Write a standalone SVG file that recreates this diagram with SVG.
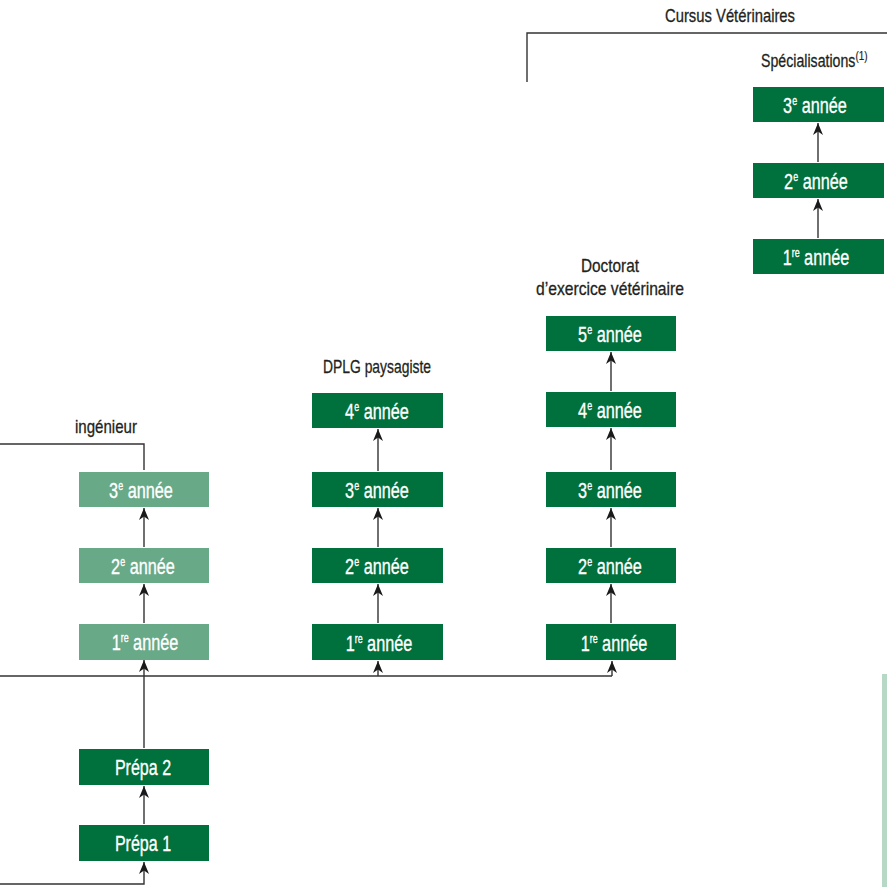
<svg xmlns="http://www.w3.org/2000/svg" width="887" height="887" viewBox="0 0 887 887">
<defs>
<style>
.bx{fill:#00703c}
.lt{fill:#68a987}
.bt{fill:#ffffff;stroke:#ffffff;stroke-width:0.35;font-family:"Liberation Sans",Arial,sans-serif;font-size:22px;text-anchor:middle}
.sup{font-size:12px}
.lb{fill:#231f20;stroke:#231f20;stroke-width:0.3;font-family:"Liberation Sans",Arial,sans-serif;font-size:18.5px;text-anchor:middle}
.ln{fill:none;stroke:#333333;stroke-width:1.4}
.ar{fill:none;stroke:#333333;stroke-width:1.4;marker-end:url(#ah)}
</style>
<marker id="ah" viewBox="0 0 12 10" refX="12" refY="5" markerUnits="userSpaceOnUse" markerWidth="12" markerHeight="10" orient="auto">
<path d="M0,0 L12,5 L0,10 L3.5,5 z" fill="#1a1a1a"/>
</marker>
</defs>
<rect x="882" y="674" width="5" height="213" fill="#b8d8c6"/>
<g id="labels">
<text class="lb" x="730" y="22" textLength="130" lengthAdjust="spacingAndGlyphs">Cursus Vétérinaires</text>
<text class="lb" transform="translate(761,67) scale(0.765,1)" style="text-anchor:start">Spécialisations<tspan dy="-7" style="font-size:13px;stroke-width:0.2">(1)</tspan></text>
<text class="lb" x="610" y="272" textLength="58" lengthAdjust="spacingAndGlyphs">Doctorat</text>
<text class="lb" x="610" y="295" textLength="148" lengthAdjust="spacingAndGlyphs">d’exercice vétérinaire</text>
<text class="lb" x="377" y="373" textLength="108" lengthAdjust="spacingAndGlyphs">DPLG paysagiste</text>
<text class="lb" x="106" y="433" textLength="62" lengthAdjust="spacingAndGlyphs">ingénieur</text>
</g>
<g id="connectors">
<path class="ln" d="M527,82 V33 H887"/>
<path class="ln" d="M0,444 H144 V470"/>
<path class="ar" d="M0,884 H144 V862"/>
<path class="ar" d="M144,824 V786"/>
<path class="ar" d="M144,748 V660"/>
<path class="ln" d="M0,676 H612"/>
<path class="ar" d="M612,676 V661"/>
<path class="ar" d="M378,676 V661"/>
<path class="ar" d="M144,623 V584"/>
<path class="ar" d="M144,547 V508"/>
<path class="ar" d="M378,623 V584"/>
<path class="ar" d="M378,547 V508"/>
<path class="ar" d="M378,471 V429"/>
<path class="ar" d="M611,623 V584"/>
<path class="ar" d="M611,547 V508"/>
<path class="ar" d="M611,470 V428"/>
<path class="ar" d="M611,391 V352"/>
<path class="ar" d="M818,238 V199"/>
<path class="ar" d="M818,162 V123"/>
</g>
<g id="spec3"><rect class="bx" x="753" y="87" width="131" height="35"/><text class="bt" transform="translate(815,113) scale(0.74,1)">3<tspan class="sup" dy="-8">e</tspan><tspan dy="8"> année</tspan></text></g>
<g id="spec2"><rect class="bx" x="753" y="163" width="131" height="35"/><text class="bt" transform="translate(816,189) scale(0.74,1)">2<tspan class="sup" dy="-8">e</tspan><tspan dy="8"> année</tspan></text></g>
<g id="spec1"><rect class="bx" x="753" y="239" width="131" height="35"/><text class="bt" transform="translate(816,265) scale(0.74,1)">1<tspan class="sup" dy="-8">re</tspan><tspan dy="8"> année</tspan></text></g>
<g id="doc5"><rect class="bx" x="546" y="316" width="130" height="35"/><text class="bt" transform="translate(610,342) scale(0.74,1)">5<tspan class="sup" dy="-8">e</tspan><tspan dy="8"> année</tspan></text></g>
<g id="doc4"><rect class="bx" x="546" y="392" width="130" height="35"/><text class="bt" transform="translate(610,418) scale(0.74,1)">4<tspan class="sup" dy="-8">e</tspan><tspan dy="8"> année</tspan></text></g>
<g id="doc3"><rect class="bx" x="546" y="472" width="130" height="35"/><text class="bt" transform="translate(610,498) scale(0.74,1)">3<tspan class="sup" dy="-8">e</tspan><tspan dy="8"> année</tspan></text></g>
<g id="doc2"><rect class="bx" x="546" y="548" width="130" height="35"/><text class="bt" transform="translate(610,574) scale(0.74,1)">2<tspan class="sup" dy="-8">e</tspan><tspan dy="8"> année</tspan></text></g>
<g id="doc1"><rect class="bx" x="546" y="624" width="130" height="36"/><text class="bt" transform="translate(614,651) scale(0.74,1)">1<tspan class="sup" dy="-8">re</tspan><tspan dy="8"> année</tspan></text></g>
<g id="dplg4"><rect class="bx" x="312" y="393" width="131" height="35"/><text class="bt" transform="translate(377,419) scale(0.74,1)">4<tspan class="sup" dy="-8">e</tspan><tspan dy="8"> année</tspan></text></g>
<g id="dplg3"><rect class="bx" x="312" y="472" width="131" height="35"/><text class="bt" transform="translate(377,498) scale(0.74,1)">3<tspan class="sup" dy="-8">e</tspan><tspan dy="8"> année</tspan></text></g>
<g id="dplg2"><rect class="bx" x="312" y="548" width="131" height="35"/><text class="bt" transform="translate(377,574) scale(0.74,1)">2<tspan class="sup" dy="-8">e</tspan><tspan dy="8"> année</tspan></text></g>
<g id="dplg1"><rect class="bx" x="312" y="624" width="131" height="36"/><text class="bt" transform="translate(379,651) scale(0.74,1)">1<tspan class="sup" dy="-8">re</tspan><tspan dy="8"> année</tspan></text></g>
<g id="ing3"><rect class="lt" x="79" y="472" width="130" height="35"/><text class="bt" transform="translate(141,498) scale(0.74,1)">3<tspan class="sup" dy="-8">e</tspan><tspan dy="8"> année</tspan></text></g>
<g id="ing2"><rect class="lt" x="79" y="548" width="130" height="35"/><text class="bt" transform="translate(143,574) scale(0.74,1)">2<tspan class="sup" dy="-8">e</tspan><tspan dy="8"> année</tspan></text></g>
<g id="ing1"><rect class="lt" x="79" y="624" width="130" height="36"/><text class="bt" transform="translate(145,650) scale(0.74,1)">1<tspan class="sup" dy="-8">re</tspan><tspan dy="8"> année</tspan></text></g>
<g id="prepa2"><rect class="bx" x="79" y="749" width="130" height="36"/><text class="bt" transform="translate(143,775) scale(0.73,1)">Prépa 2</text></g>
<g id="prepa1"><rect class="bx" x="79" y="825" width="130" height="36"/><text class="bt" transform="translate(143,851) scale(0.73,1)">Prépa 1</text></g>
</svg>
